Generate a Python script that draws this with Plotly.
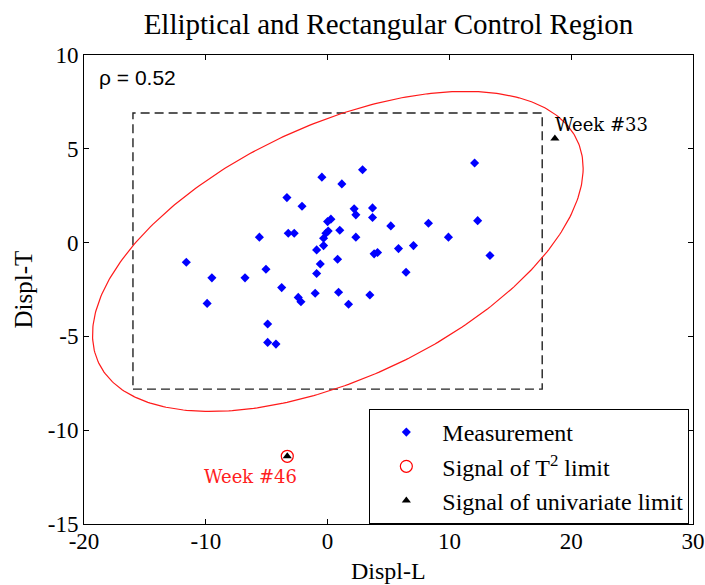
import numpy as np
import plotly.graph_objects as go

# ---------------- data ----------------
x_meas = [2.87, -0.47, 1.17, -3.34, -2.10, 2.18, 2.32, 3.69, 3.69, 5.19,
          0.00, 0.27, -0.14, 0.05, -0.33, 1.00, 2.32, -3.23, -2.74, -5.60,
          -0.33, -0.90, 3.82, 4.10, 5.82, -0.60, 0.82, -11.60, -9.50, -6.78,
          -5.06, -0.90, -3.77, -2.41, -2.19, -1.02, 0.90, 3.47, -9.89, 1.72,
          -4.92, -4.92, -4.24, 12.07, 8.28, 12.32, 9.92, 7.05, 13.33, 6.44]
y_meas = [3.88, 3.49, 3.13, 2.40, 1.94, 1.80, 1.48, 1.85, 1.34, 0.89,
          1.12, 1.25, 0.50, 0.62, 0.23, 0.66, 0.29, 0.50, 0.50, 0.29,
          -0.16, -0.39, -0.60, -0.53, -0.32, -1.14, -0.89, -1.05, -1.88, -1.88,
          -1.42, -1.65, -2.40, -2.92, -3.15, -2.70, -2.65, -2.79, -3.24, -3.29,
          -4.34, -5.32, -5.41, 4.24, 1.03, 1.17, 0.29, -0.16, -0.69, -1.58]

# T^2 signal (week 46) and univariate signals (weeks 33 and 46)
x_t2 = [-3.31]
y_t2 = [-11.39]
x_uni = [18.66, -3.31]
y_uni = [5.55, -11.39]

# univariate control limits (rectangle)
x_lcl, x_ucl = -15.98, 17.62
y_lcl, y_ucl = -7.81, 6.91

# elliptical T^2 limit: centre, half extents, correlation
ell_cx, ell_cy = 0.84, -0.47
ell_ax, ell_ay = 20.14, 8.53
rho = 0.52

# ---------------- figure ----------------
SERIF = "Liberation Serif, Times New Roman, serif"
fig = go.Figure()

# rectangle (dashed)
fig.add_trace(go.Scatter(
    x=[x_lcl, x_ucl, x_ucl, x_lcl, x_lcl],
    y=[y_lcl, y_lcl, y_ucl, y_ucl, y_lcl],
    mode="lines", line=dict(color="#222222", width=1.4, dash="9px,5px"),
    showlegend=False, hoverinfo="skip"))

# ellipse
t = np.linspace(0, 2 * np.pi, 400)
ex = ell_cx + ell_ax * np.cos(t)
ey = ell_cy + ell_ay * (rho * np.cos(t) + np.sqrt(1 - rho ** 2) * np.sin(t))
fig.add_trace(go.Scatter(x=ex, y=ey, mode="lines",
                         line=dict(color="#ff1a1a", width=1.2),
                         showlegend=False, hoverinfo="skip"))

fig.add_trace(go.Scatter(
    x=x_meas, y=y_meas, mode="markers", name="Measurement",
    legendgroup="a",
    marker=dict(symbol="diamond", size=7, color="#0000ff")))
fig.add_trace(go.Scatter(
    x=x_t2, y=y_t2, mode="markers", name="Signal of T<sup>2</sup> limit",
    legendgroup="b",
    marker=dict(symbol="circle-open", size=12, color="#ff0000",
                line=dict(width=1.2, color="#ff0000"))))
fig.add_trace(go.Scatter(
    x=x_uni, y=y_uni, mode="markers", name="Signal of univariate limit",
    legendgroup="c",
    marker=dict(symbol="triangle-up", size=8, color="black")))

fig.add_annotation(x=18.5, y=6.3, xref="x", yref="y", text="Week #33",
                   showarrow=False, xanchor="left", yanchor="middle",
                   font=dict(family="DejaVu Serif", size=18, color="black"))
fig.add_annotation(x=-6.34, y=-12.47, xref="x", yref="y", text="Week #46",
                   showarrow=False, xanchor="center", yanchor="middle",
                   font=dict(family="DejaVu Serif", size=18, color="#ff2020"))
fig.add_annotation(x=0.0, y=1.0, xref="paper", yref="paper",
                   text="\u03c1 = 0.52", showarrow=False,
                   xanchor="left", yanchor="middle", xshift=13, yshift=-22,
                   font=dict(family="Liberation Sans, Arial", size=21,
                             color="black"))

# axis titles
fig.add_annotation(x=0.5, y=0, xref="paper", yref="paper", text="Displ-L",
                   showarrow=False, xanchor="center", yanchor="middle",
                   yshift=-47, font=dict(family=SERIF, size=24, color="black"))
fig.add_annotation(x=0, y=0.5, xref="paper", yref="paper", text="Displ-T",
                   showarrow=False, xanchor="center", yanchor="middle",
                   textangle=-90, xshift=-61,
                   font=dict(family=SERIF, size=25, color="black"))

axis_common = dict(showgrid=False, zeroline=False, showline=True,
                   linecolor="black", linewidth=1, mirror="ticks",
                   ticks="inside", ticklen=5, tickcolor="black",
                   automargin=False,
                   tickfont=dict(family=SERIF, size=23, color="black"))
fig.update_xaxes(range=[-20, 30], tickvals=[-20, -10, 0, 10, 20, 30],
                 ticktext=["-20", "-10", "0", "10", "20", "30"],
                 ticklabelstandoff=-4, **axis_common)
fig.update_yaxes(range=[-15, 10], tickvals=[-15, -10, -5, 0, 5, 10],
                 ticktext=["-15", "-10", "-5", "0", "5", "10"], **axis_common)

fig.update_layout(
    width=705, height=585,
    margin=dict(l=84, r=12, t=55, b=61, autoexpand=False),
    paper_bgcolor="white", plot_bgcolor="white",
    title=dict(text="Elliptical and Rectangular Control Region",
               x=0.5, xref="paper", xanchor="center",
               y=1 - 24 / 585, yref="container", yanchor="middle",
               font=dict(family=SERIF, size=29, color="black")),
    legend=dict(x=0.994, y=0.0, xanchor="right", yanchor="bottom",
                bgcolor="white", bordercolor="black", borderwidth=1,
                font=dict(family=SERIF, size=24, color="black"),
                tracegroupgap=0, traceorder="grouped", itemwidth=62),
    showlegend=True,
)

fig.write_html("out.html")
